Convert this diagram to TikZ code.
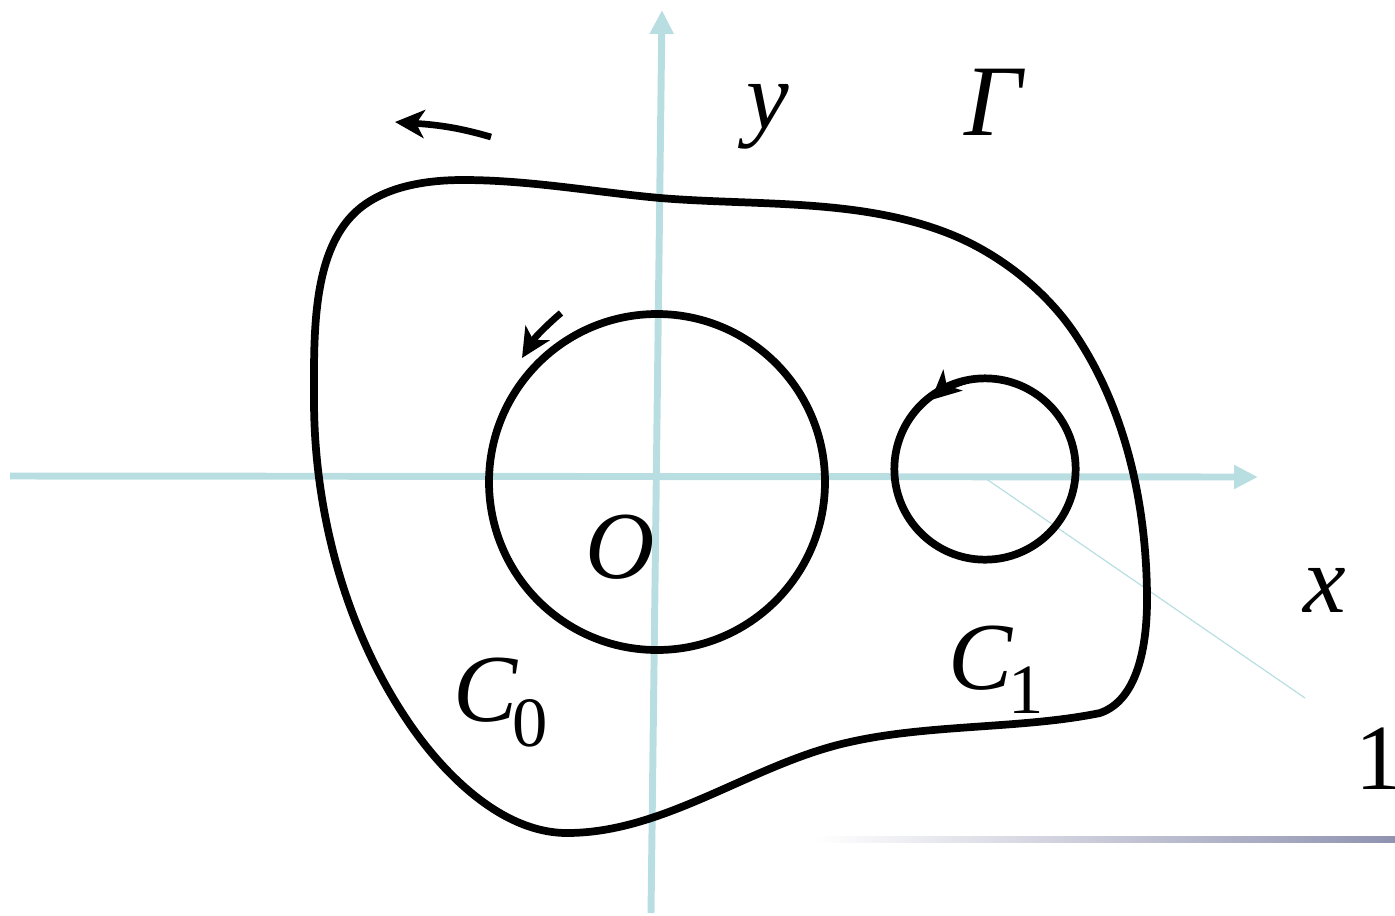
\documentclass[tikz,border=0pt]{standalone}
\usepackage{fontspec}
\setmainfont{Liberation Serif}
\usetikzlibrary{arrows.meta}
\definecolor{axisblue}{RGB}{185,222,226}
\definecolor{barblue}{RGB}{143,147,176}
\tikzset{
  axis/.style={draw=axisblue, line width=5.2pt, -{Triangle[length=18pt,width=17pt]}},
  curve/.style={draw=black, line width=5.8pt},
  orient/.style={draw=black, line width=5pt, -{Stealth[length=22pt,width=21pt,inset=6pt]}},
  lbl/.style={inner sep=0pt, font=\fontsize{72}{80}\selectfont\itshape},
  sublbl/.style={inner sep=0pt, font=\fontsize{53}{60}\selectfont},
}
\begin{document}
\begin{tikzpicture}[x=0.75pt,y=-0.75pt]
\useasboundingbox (0,0) rectangle (1395,915);
% axes
\coordinate (xs) at (10,476);
\coordinate (xe) at (1258,477);
\coordinate (ys) at (651,913);
\coordinate (ye) at (662,10);
\draw[axis] (xs) -- (xe);
\draw[axis] (ys) -- (ye);
\coordinate (ds) at (985,478);
\coordinate (de) at (1305,698);
\draw[axisblue, line width=0.9pt] (ds) -- (de);
% outer curve Gamma
\draw[curve, line join=round] (660,198)
  .. controls (757,206) and (860,198) .. (950,234)
  .. controls (1000,254) and (1048,292) .. (1077,337)
  .. controls (1127,413) and (1147,509) .. (1147,600)
  .. controls (1147,645) and (1138,700) .. (1100,713)
  .. controls (1022,729) and (930,724) .. (850,742)
  .. controls (753,763) and (666,833) .. (567,833)
  .. controls (502,833) and (443,774) .. (407,720)
  .. controls (345,628) and (314,511) .. (314,400)
  .. controls (314,332) and (311,240) .. (367,203)
  .. controls (394,185) and (430,180) .. (463,180)
  .. controls (529,180) and (594,192) .. cycle;
% circles
\node[curve, circle, minimum size=252pt, inner sep=0pt] (c0) at (657,482) {};
\node[curve, circle, minimum size=136pt, inner sep=0pt] (c1) at (985,469) {};
% orientation arrows
\coordinate (a1s) at (491,137);
\coordinate (a1e) at (395,122);
\draw[orient] (a1s) .. controls (460,128) and (440,125) .. (a1e);
\coordinate (a2s) at (561,313);
\coordinate (a2e) at (522,358);
\draw[orient] (a2s) .. controls (548,324) and (535,337) .. (a2e);
\coordinate (a3s) at (965,381);
\coordinate (a3e) at (931,400);
\draw[orient] (a3s) .. controls (955,384) and (942,390) .. (a3e);
% labels
\node[lbl] (ly) at (768,117) {y};
\node[lbl, font=\fontsize{76}{80}\selectfont\itshape] (lg) at (993,102) {Γ};
\node[lbl] (lo) at (620,547) {O};
\node[lbl] (lx) at (1325,590) {x};
\node[lbl] (lc0) at (486,690) {C};
\node[sublbl] (l0) at (530,723) {0};
\node[lbl] (lc1) at (981,658) {C};
\node[sublbl] (l1) at (1026,690) {1};
\node[inner sep=0pt, font=\fontsize{70}{80}\selectfont] (one) at (1379,759) {1};
% gradient bar
\shade[left color=white, right color=barblue] (815,836) rectangle (1395,842);
\end{tikzpicture}
\end{document}
